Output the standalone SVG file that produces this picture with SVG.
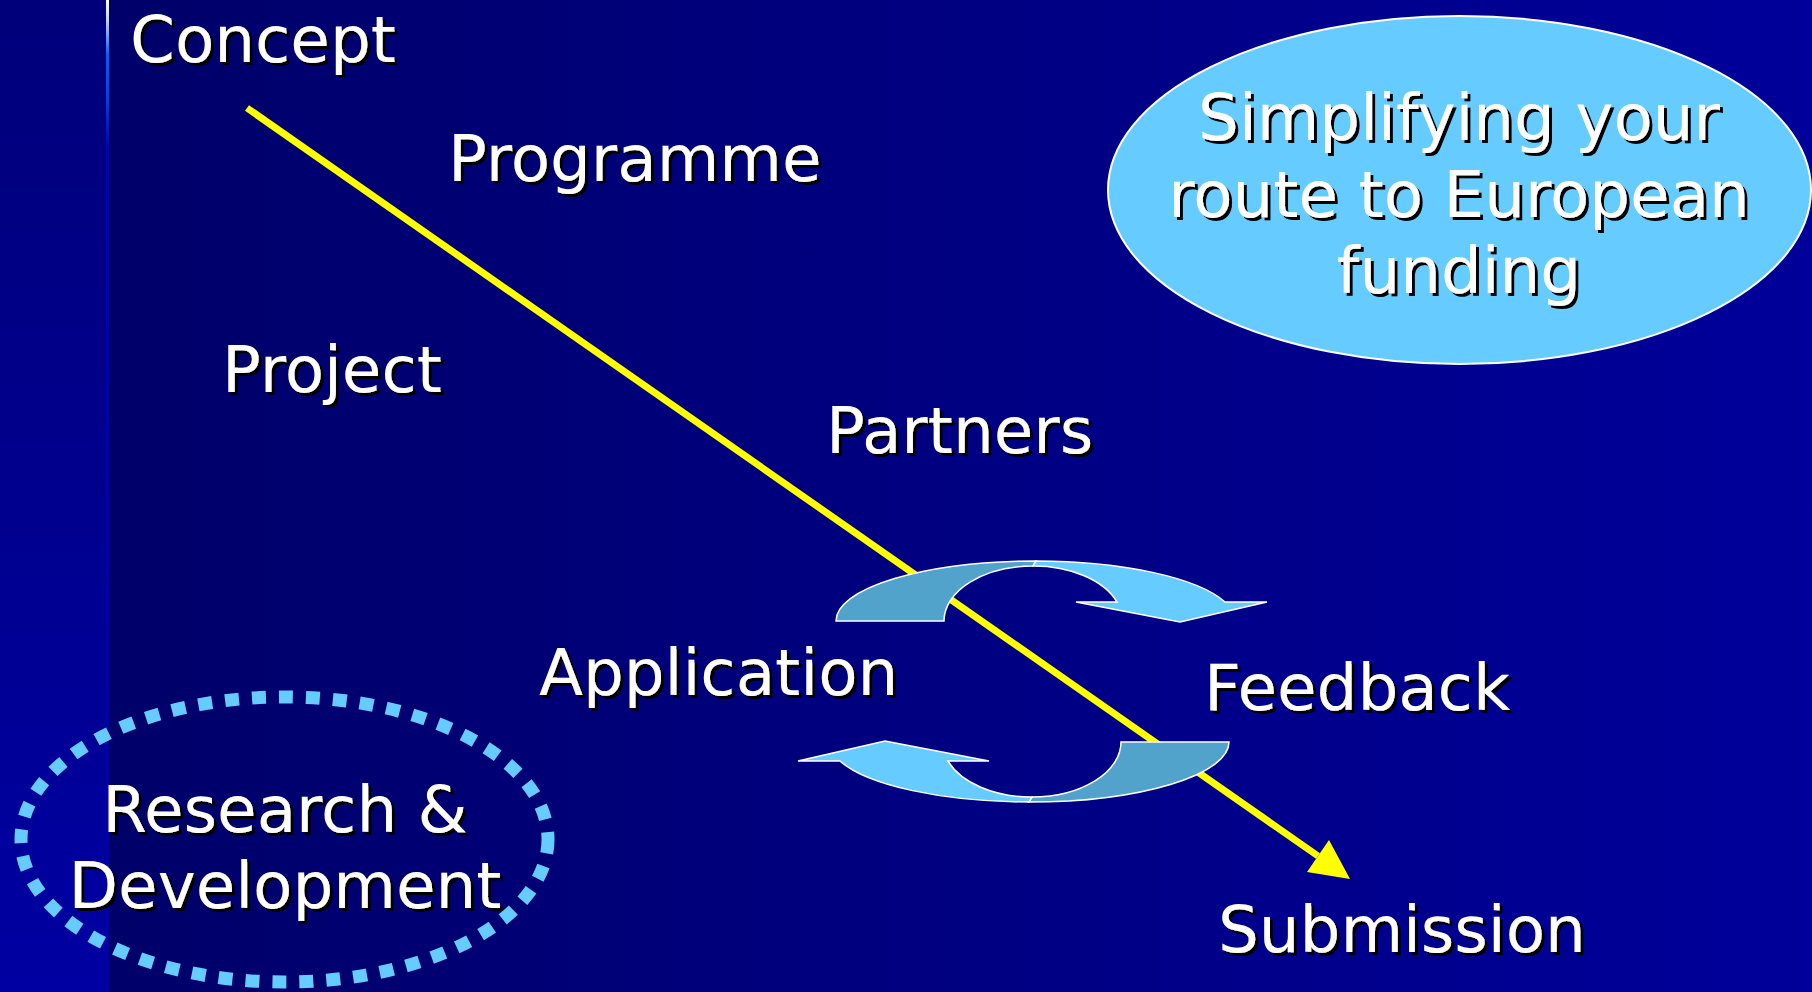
<svg xmlns="http://www.w3.org/2000/svg" width="1812" height="992" viewBox="0 0 1812 992">
  <defs>
    <linearGradient id="bgMain" x1="0" y1="0" x2="1" y2="0">
      <stop offset="0" stop-color="#000066"/>
      <stop offset="1" stop-color="#00009A"/>
    </linearGradient>
    <linearGradient id="bgStrip" x1="0" y1="0" x2="0" y2="1">
      <stop offset="0" stop-color="#00007A"/>
      <stop offset="1" stop-color="#0000A2"/>
    </linearGradient>
    <linearGradient id="rule" x1="0" y1="0" x2="0" y2="992" gradientUnits="userSpaceOnUse">
      <stop offset="0" stop-color="#FFFFE6"/>
      <stop offset="0.02" stop-color="#C8D4FF"/>
      <stop offset="0.055" stop-color="#0060FF"/>
      <stop offset="0.1" stop-color="#0040E8"/>
      <stop offset="0.15" stop-color="#0000B8"/>
      <stop offset="1" stop-color="#0000A8"/>
    </linearGradient>
    <filter id="shadow" x="-5%" y="-10%" width="115%" height="130%">
      <feOffset in="SourceAlpha" dx="2.5" dy="2.5" result="off"/>
      <feMerge>
        <feMergeNode in="off"/>
        <feMergeNode in="SourceGraphic"/>
      </feMerge>
    </filter>
    <style>
      .lbl { font-family: "DejaVu Sans", Verdana, sans-serif; font-size: 64.3px; fill: #FFFFFF; filter: url(#shadow); }
      .mid { text-anchor: middle; }
      .light { fill: #66CCFF; stroke: #FFFFFF; stroke-width: 1.5; stroke-linejoin: miter; }
      .dark { fill: #52A3CC; stroke: #FFFFFF; stroke-width: 1.5; }
    </style>
  </defs>

  <!-- background -->
  <rect x="0" y="0" width="1812" height="992" fill="url(#bgMain)"/>
  <rect x="0" y="0" width="106" height="992" fill="url(#bgStrip)"/>
  <rect x="106" y="0" width="3" height="992" fill="url(#rule)"/>

  <!-- connectors -->
  <g id="connectors">
    <line x1="247" y1="108" x2="1318" y2="856" stroke="#FFFF00" stroke-width="7"/>
    <polygon points="1350,879 1329,840 1307,872" fill="#FFFF00"/>
  </g>

  <!-- cycle arrows -->
  <g id="cycle-arrows">
    <g id="arrow-top">
      <path class="dark" d="M 836 621 A 200 60 0 0 1 1036 561 L 1033 566 A 89 55 0 0 0 944 621 Z"/>
      <path class="light" d="M 1036 561 A 200 60 0 0 1 1225 602 L 1267 602 L 1180 622 L 1076 602 L 1117 602 A 89 55 0 0 0 1033 566 Z"/>
    </g>
    <g id="arrow-bottom" transform="rotate(180 1032.5 681.5)">
      <path class="dark" d="M 836 621 A 200 60 0 0 1 1036 561 L 1033 566 A 89 55 0 0 0 944 621 Z"/>
      <path class="light" d="M 1036 561 A 200 60 0 0 1 1225 602 L 1267 602 L 1180 622 L 1076 602 L 1117 602 A 89 55 0 0 0 1033 566 Z"/>
    </g>
  </g>

  <!-- nodes -->
  <g id="concept"><text class="lbl" x="130" y="62">Concept</text></g>
  <g id="programme"><text class="lbl" x="448" y="181">Programme</text></g>
  <g id="project"><text class="lbl" x="222" y="392">Project</text></g>
  <g id="partners"><text class="lbl" x="826" y="453">Partners</text></g>
  <g id="application"><text class="lbl" x="539" y="695">Application</text></g>
  <g id="feedback"><text class="lbl" x="1204" y="710">Feedback</text></g>
  <g id="submission"><text class="lbl" x="1218" y="952">Submission</text></g>

  <g id="slogan">
    <ellipse cx="1459.5" cy="190" rx="351.5" ry="174" fill="#66CCFF" stroke="#FFFFFF" stroke-width="2"/>
    <text class="lbl mid" x="1459" y="140">Simplifying your</text>
    <text class="lbl mid" x="1459" y="217">route to European</text>
    <text class="lbl mid" x="1459" y="293">funding</text>
  </g>

  <g id="research">
    <ellipse cx="284.5" cy="839.5" rx="263.5" ry="142.5" fill="none" stroke="#66CCFF" stroke-width="13" stroke-dasharray="14 13"/>
    <text class="lbl mid" x="285" y="832">Research &amp;</text>
    <text class="lbl mid" x="285" y="908">Development</text>
  </g>
</svg>
